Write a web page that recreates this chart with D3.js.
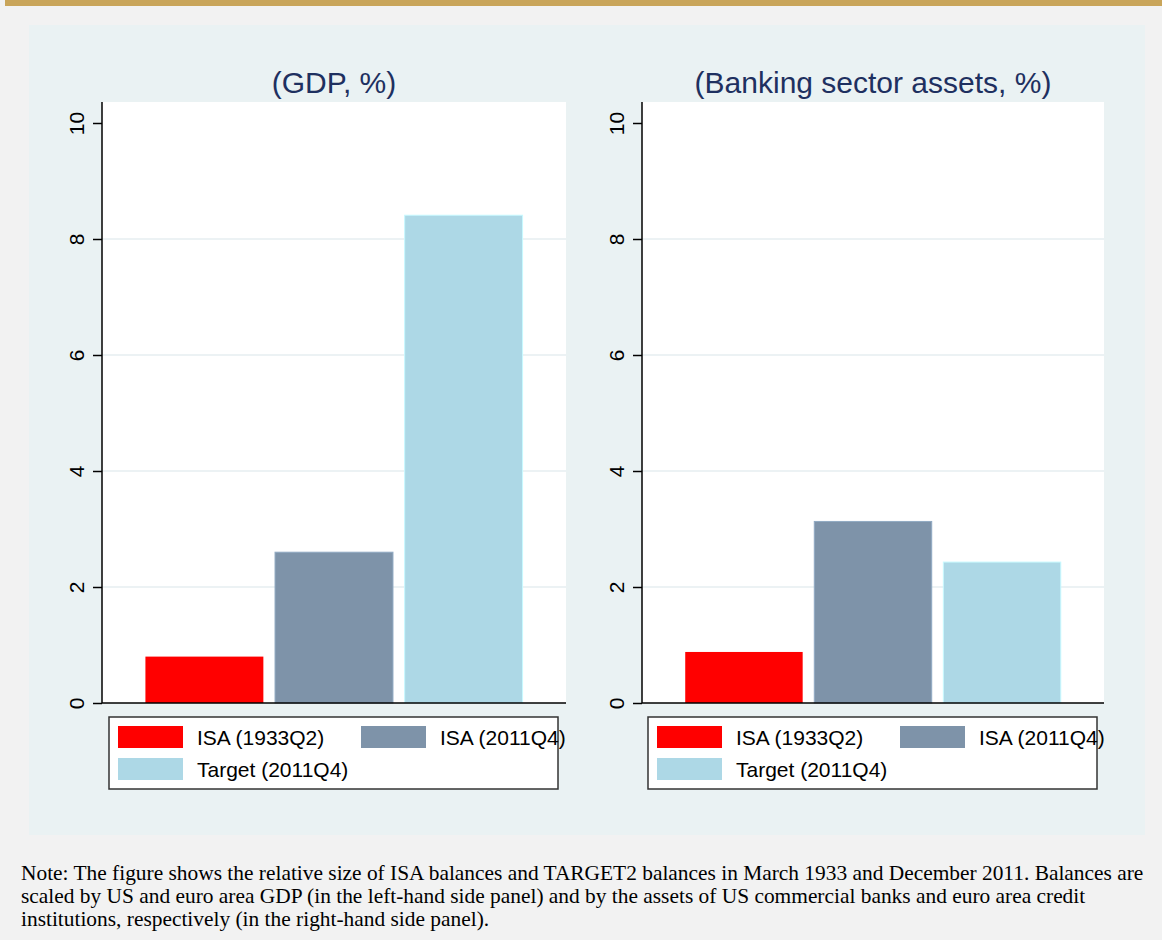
<!DOCTYPE html>
<html>
<head>
<meta charset="utf-8">
<script src="https://cdn.jsdelivr.net/npm/d3@7"></script>
<style>
  body { margin: 0; background: #f2f2f2; }
  svg { display: block; }
</style>
</head>
<body>
<div id="chart"></div>
<script>
// series and values
const series = ["ISA (1933Q2)", "ISA (2011Q4)", "Target (2011Q4)"];
const gdpValues = [0.80, 2.60, 8.41];
const bankValues = [0.88, 3.13, 2.43];
const panelTitles = ["(GDP, %)", "(Banking sector assets, %)"];
const yTicks = [0, 2, 4, 6, 8, 10];
const noteLines = [
  "Note: The figure shows the relative size of ISA balances and TARGET2 balances in March 1933 and December 2011. Balances are",
  "scaled by US and euro area GDP (in the left-hand side panel) and by the assets of US commercial banks and euro area credit",
  "institutions, respectively (in the right-hand side panel)."
];

const colors = ["#ff0000", "#7e93a9", "#add8e6"];
const width = 1162, height = 940;
const sans = "Liberation Sans, Arial, sans-serif";

const svg = d3.select("#chart").append("svg")
    .attr("width", width)
    .attr("height", height);

// page background + gold strip on top
svg.append("rect").attr("width", width).attr("height", height).attr("fill", "#f2f2f2");
svg.append("rect").attr("x", 5).attr("y", 0).attr("width", width - 5).attr("height", 6).attr("fill", "#c9a55a");

// graph region
svg.append("rect")
    .attr("x", 29).attr("y", 25)
    .attr("width", 1116).attr("height", 810)
    .attr("fill", "#eaf2f3");

const y = d3.scaleLinear().domain([0, 10]).range([703, 123]);
const plotTop = 102;

const panels = [
  { values: gdpValues, x0: 102, x1: 566, legendX: 109, legendW: 449 },
  { values: bankValues, x0: 642, x1: 1104, legendX: 648, legendW: 449 }
];

panels.forEach((p, i) => {
  const g = svg.append("g");

  // plot area
  g.append("rect")
      .attr("x", p.x0).attr("y", plotTop)
      .attr("width", p.x1 - p.x0).attr("height", y(0) - plotTop)
      .attr("fill", "#fff");

  // gridlines (not at the ends)
  g.append("g").selectAll("line")
    .data(yTicks.filter(t => t > 0 && t < 10))
    .enter().append("line")
      .attr("x1", p.x0).attr("x2", p.x1)
      .attr("y1", d => y(d)).attr("y2", d => y(d))
      .attr("stroke", "#e6eef1")
      .attr("stroke-width", 1.5);

  // bars
  const x = d3.scaleBand()
      .domain(series)
      .range([p.x0, p.x1])
      .paddingInner(0.09)
      .paddingOuter(0.335);

  g.append("g").selectAll("rect")
    .data(p.values)
    .enter().append("rect")
      .attr("x", (d, j) => x(series[j]))
      .attr("y", d => y(d))
      .attr("width", x.bandwidth())
      .attr("height", d => y(0) - y(d))
      .attr("fill", (d, j) => colors[j])
      .attr("stroke", (d, j) => j === 0 ? "none" : d3.color(colors[j]).brighter(0.4))
      .attr("stroke-width", 1);

  // y axis
  const axis = g.append("g")
      .attr("transform", `translate(${p.x0},0)`)
      .call(d3.axisLeft(y).tickValues(yTicks).tickSize(9).tickPadding(0).tickFormat(d3.format("d")));
  axis.select(".domain")
      .attr("d", `M0,${plotTop}V${y(0)}`)
      .attr("stroke", "#000").attr("stroke-width", 1.5);
  axis.selectAll(".tick line").attr("stroke", "#000").attr("stroke-width", 1.5);
  axis.selectAll(".tick text")
      .attr("x", 0).attr("dy", 0)
      .attr("transform", "translate(-26,0) rotate(-90)")
      .attr("text-anchor", "middle")
      .attr("dominant-baseline", "central")
      .attr("font-family", sans)
      .attr("font-size", 21)
      .attr("fill", "#000");

  // x axis line
  g.append("line")
      .attr("x1", p.x0).attr("x2", p.x1)
      .attr("y1", y(0)).attr("y2", y(0))
      .attr("stroke", "#000").attr("stroke-width", 1.5);

  // title
  g.append("text")
      .attr("x", (p.x0 + p.x1) / 2)
      .attr("y", 93)
      .attr("text-anchor", "middle")
      .attr("font-family", sans)
      .attr("font-size", 30)
      .attr("fill", "#1e3060")
      .text(panelTitles[i]);

  // legend
  const lg = g.append("g").attr("transform", `translate(${p.legendX},717)`);
  lg.append("rect")
      .attr("width", p.legendW).attr("height", 72)
      .attr("fill", "#fff")
      .attr("stroke", "#333").attr("stroke-width", 1.5);

  const items = lg.selectAll("g.item")
    .data(series)
    .enter().append("g")
      .attr("class", "item")
      .attr("transform", (d, j) => `translate(${j === 1 ? 252 : 9},${j === 2 ? 41 : 9})`);
  items.append("rect")
      .attr("width", 65).attr("height", 22)
      .attr("fill", (d, j) => colors[j]);
  items.append("text")
      .attr("x", 79).attr("y", 19)
      .attr("font-family", sans)
      .attr("font-size", 21)
      .attr("fill", "#000")
      .text(d => d);
});

// note
svg.append("g").selectAll("text")
  .data(noteLines)
  .enter().append("text")
    .attr("x", 21)
    .attr("y", (d, i) => 880 + i * 23)
    .attr("font-family", "Liberation Serif, Times New Roman, serif")
    .attr("font-size", 21.4)
    .attr("fill", "#000")
    .text(d => d);
</script>
</body>
</html>
